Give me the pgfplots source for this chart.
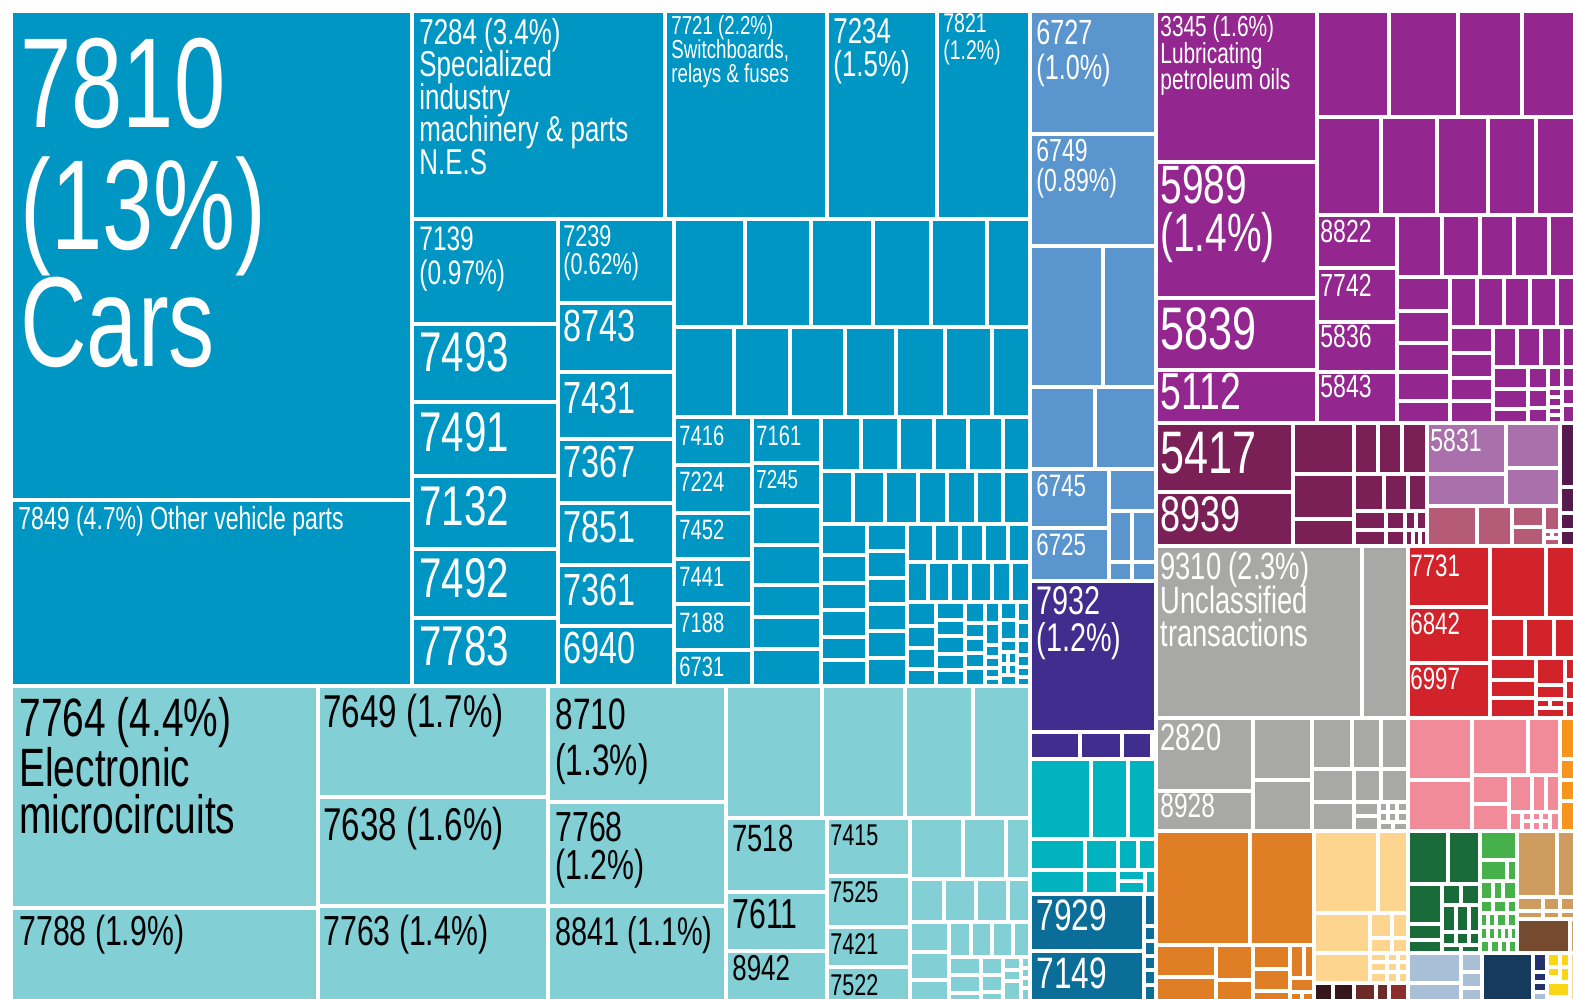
\documentclass[border=0pt]{standalone}
\usepackage{fontspec}
\setmainfont{Liberation Sans}[FakeStretch=0.72]
\usepackage{pgfplots}
\pgfplotsset{compat=1.18}
\definecolor{cB}{HTML}{0096C3}
\definecolor{cT}{HTML}{82CFD5}
\definecolor{cS}{HTML}{5A95CD}
\definecolor{cI}{HTML}{3F2E8E}
\definecolor{cC}{HTML}{00B3BF}
\definecolor{cD}{HTML}{0B6E99}
\definecolor{cP}{HTML}{93278F}
\definecolor{cM}{HTML}{7B1F57}
\definecolor{cL}{HTML}{A970AC}
\definecolor{cR}{HTML}{B55A77}
\definecolor{cK}{HTML}{561A4F}
\definecolor{cG}{HTML}{A8A9A7}
\definecolor{cRd}{HTML}{D2232A}
\definecolor{cPk}{HTML}{F28B99}
\definecolor{cO}{HTML}{F7941D}
\definecolor{cDO}{HTML}{E07E26}
\definecolor{cLO}{HTML}{FDD58F}
\definecolor{cBrA}{HTML}{35161A}
\definecolor{cBrB}{HTML}{6C2B26}
\definecolor{cBrC}{HTML}{8A2D2B}
\definecolor{cDG}{HTML}{1A6B3A}
\definecolor{cLG}{HTML}{46B04A}
\definecolor{cTn}{HTML}{CF9C5F}
\definecolor{cBw}{HTML}{754A2E}
\definecolor{cPb}{HTML}{A9BFD8}
\definecolor{cN}{HTML}{153A5E}
\definecolor{cNb}{HTML}{24316F}
\definecolor{cY}{HTML}{F9D616}
\newcommand{\rect}[5]{\addplot[fill=#5, draw=white, line width=2pt] coordinates {(#1,#2) (#3,#2) (#3,#4) (#1,#4)} -- cycle;}
\newcommand{\lab}[5]{\node[anchor=base west, inner sep=0pt, text=#4, font=\fontsize{#3}{#3}\selectfont] at (axis cs:#1,#2) {#5};}
\begin{document}
\begin{tikzpicture}
\begin{axis}[scale only axis, width=786.5pt, height=499.5pt, xmin=0, xmax=1573, ymin=0, ymax=999, y dir=reverse, hide axis, clip=true]
\addplot[draw=none, fill=white] coordinates {(0,0) (1573,0) (1573,999) (0,999)} -- cycle;
% ---------- Machinery (blue)
\rect{11}{11}{412}{500}{cB}
\rect{11}{500}{412}{686}{cB}
\rect{412}{11}{664.5}{219.5}{cB}
\rect{664.5}{11}{826.5}{219.5}{cB}
\rect{826.5}{11}{936.5}{219.5}{cB}
\rect{936.5}{11}{1030}{219.5}{cB}
\rect{412}{219.5}{557.8}{324.5}{cB}
\rect{412}{324.5}{557.8}{402}{cB}
\rect{412}{402}{557.8}{476.5}{cB}
\rect{412}{476.5}{557.8}{548.5}{cB}
\rect{412}{548.5}{557.8}{618}{cB}
\rect{412}{618}{557.8}{686}{cB}
\rect{557.8}{219.5}{674}{303.5}{cB}
\rect{557.8}{303.5}{674}{372.5}{cB}
\rect{557.8}{372.5}{674}{439}{cB}
\rect{557.8}{439}{674}{503.5}{cB}
\rect{557.8}{503.5}{674}{564.5}{cB}
\rect{557.8}{564.5}{674}{625.5}{cB}
\rect{557.8}{625.5}{674}{686}{cB}
\rect{674}{219.5}{744.5}{327}{cB}
\rect{744.5}{219.5}{811}{327}{cB}
\rect{811}{219.5}{872.5}{327}{cB}
\rect{872.5}{219.5}{931}{327}{cB}
\rect{931}{219.5}{987}{327}{cB}
\rect{987}{219.5}{1030}{327}{cB}
\rect{674}{327}{733.7}{417.5}{cB}
\rect{733.7}{327}{789.5}{417.5}{cB}
\rect{789.5}{327}{845.3}{417.5}{cB}
\rect{845.3}{327}{896}{417.5}{cB}
\rect{896}{327}{944.5}{417.5}{cB}
\rect{944.5}{327}{992}{417.5}{cB}
\rect{992}{327}{1030}{417.5}{cB}
\rect{674}{417.5}{752}{465.3}{cB}
\rect{674}{465.3}{752}{513.3}{cB}
\rect{674}{513.3}{752}{559}{cB}
\rect{674}{559}{752}{603.8}{cB}
\rect{674}{603.8}{752}{649.5}{cB}
\rect{674}{649.5}{752}{686}{cB}
\rect{752}{417.5}{821}{462.8}{cB}
\rect{752}{462.8}{821}{505.7}{cB}
\rect{752}{505.7}{821}{545.3}{cB}
\rect{752}{545.3}{821}{585.3}{cB}
\rect{752}{585.3}{821}{617.2}{cB}
\rect{752}{617.2}{821}{649}{cB}
\rect{752}{649}{821}{686}{cB}
\rect{821}{417.5}{861.3}{471}{cB}
\rect{861.3}{417.5}{899}{471}{cB}
\rect{899}{417.5}{933.5}{471}{cB}
\rect{933.5}{417.5}{968}{471}{cB}
\rect{968}{417.5}{1002.8}{471}{cB}
\rect{1002.8}{417.5}{1030}{471}{cB}
\rect{821}{471}{853.3}{524.5}{cB}
\rect{853.3}{471}{885.3}{524.5}{cB}
\rect{885.3}{471}{917.7}{524.5}{cB}
\rect{917.7}{471}{947}{524.5}{cB}
\rect{947}{471}{976}{524.5}{cB}
\rect{976}{471}{1002.8}{524.5}{cB}
\rect{1002.8}{471}{1030}{524.5}{cB}
\rect{821}{524.5}{867}{554.7}{cB}
\rect{821}{554.7}{867}{582.8}{cB}
\rect{821}{582.8}{867}{610}{cB}
\rect{821}{610}{867}{636.7}{cB}
\rect{821}{636.7}{867}{660}{cB}
\rect{821}{660}{867}{686}{cB}
\rect{867}{524.5}{907}{551.3}{cB}
\rect{867}{551.3}{907}{577.7}{cB}
\rect{867}{577.7}{907}{604.3}{cB}
\rect{867}{604.3}{907}{631}{cB}
\rect{867}{631}{907}{657.7}{cB}
\rect{867}{657.7}{907}{686}{cB}
\rect{907}{524.5}{933.5}{561.5}{cB}
\rect{933.5}{524.5}{960}{561.5}{cB}
\rect{960}{524.5}{984.3}{561.5}{cB}
\rect{984.3}{524.5}{1008.3}{561.5}{cB}
\rect{1008.3}{524.5}{1030}{561.5}{cB}
\rect{907}{561.5}{928}{601.7}{cB}
\rect{928}{561.5}{949.5}{601.7}{cB}
\rect{949.5}{561.5}{970.3}{601.7}{cB}
\rect{970.3}{561.5}{992}{601.7}{cB}
\rect{992}{561.5}{1011}{601.7}{cB}
\rect{1011}{561.5}{1030}{601.7}{cB}
\rect{907}{601.7}{935.5}{626}{cB}
\rect{907}{626}{935.5}{648}{cB}
\rect{907}{648}{935.5}{669}{cB}
\rect{907}{669}{935.5}{686}{cB}
\rect{935.5}{601.7}{965}{620}{cB}
\rect{935.5}{620}{965}{636}{cB}
\rect{935.5}{636}{965}{653.5}{cB}
\rect{935.5}{653.5}{965}{670}{cB}
\rect{935.5}{670}{965}{686}{cB}
\rect{965}{601.7}{984.5}{623}{cB}
\rect{965}{623}{984.5}{637.5}{cB}
\rect{965}{637.5}{984.5}{652.5}{cB}
\rect{965}{652.5}{984.5}{668}{cB}
\rect{965}{668}{984.5}{686}{cB}
\rect{984.5}{601.7}{999.5}{623}{cB}
\rect{984.5}{623}{999.5}{645}{cB}
\rect{984.5}{645}{999.5}{657}{cB}
\rect{984.5}{657}{999.5}{668}{cB}
\rect{984.5}{668}{999.5}{678}{cB}
\rect{984.5}{678}{999.5}{686}{cB}
\rect{999.5}{601.7}{1016.5}{620}{cB}
\rect{999.5}{620}{1016.5}{640}{cB}
\rect{999.5}{640}{1016.5}{652}{cB}
\rect{999.5}{652}{1008}{664}{cB}
\rect{1008}{652}{1016.5}{664}{cB}
\rect{999.5}{664}{1008}{675}{cB}
\rect{1008}{664}{1016.5}{675}{cB}
\rect{999.5}{675}{1016.5}{686}{cB}
\rect{1016.5}{601.7}{1030}{622}{cB}
\rect{1016.5}{622}{1030}{640}{cB}
\rect{1016.5}{640}{1030}{655}{cB}
\rect{1016.5}{655}{1030}{667}{cB}
\rect{1016.5}{667}{1030}{677}{cB}
\rect{1016.5}{677}{1030}{686}{cB}
% ---------- Electronics (light teal)
\rect{11}{686}{317.5}{908}{cT}
\rect{11}{908}{317.5}{1004}{cT}
\rect{317.5}{686}{548}{797}{cT}
\rect{317.5}{797}{548}{905.5}{cT}
\rect{317.5}{905.5}{548}{1004}{cT}
\rect{548}{686}{726}{802}{cT}
\rect{548}{802}{726}{906}{cT}
\rect{548}{906}{726}{1004}{cT}
\rect{726}{686}{821.7}{818}{cT}
\rect{821.7}{686}{904.7}{818}{cT}
\rect{904.7}{686}{973.3}{818}{cT}
\rect{973.3}{686}{1030}{818}{cT}
\rect{726}{818}{827}{892}{cT}
\rect{726}{892}{827}{950.7}{cT}
\rect{726}{950.7}{827}{1004}{cT}
\rect{827}{818}{909.5}{876}{cT}
\rect{827}{876}{909.5}{926.7}{cT}
\rect{827}{926.7}{909.5}{967}{cT}
\rect{827}{967}{909.5}{1004}{cT}
\rect{909.5}{818}{963.3}{879}{cT}
\rect{963.3}{818}{1005.7}{879}{cT}
\rect{1005.7}{818}{1030}{879}{cT}
\rect{909.5}{879}{944.3}{922}{cT}
\rect{944.3}{879}{976.2}{922}{cT}
\rect{976.2}{879}{1008}{922}{cT}
\rect{1008}{879}{1030}{922}{cT}
\rect{909.5}{922}{949.2}{951.7}{cT}
\rect{909.5}{951.7}{949.2}{979.7}{cT}
\rect{909.5}{979.7}{949.2}{1004}{cT}
\rect{949.2}{922}{970.8}{956.5}{cT}
\rect{970.8}{922}{992.3}{956.5}{cT}
\rect{992.3}{922}{1013.3}{956.5}{cT}
\rect{1013.3}{922}{1030}{956.5}{cT}
\rect{949.2}{956.5}{981.3}{975.3}{cT}
\rect{949.2}{975.3}{981.3}{993}{cT}
\rect{949.2}{993}{981.3}{1004}{cT}
\rect{981.3}{956.5}{1003}{974.7}{cT}
\rect{981.3}{974.7}{1003}{992}{cT}
\rect{981.3}{992}{1003}{1004}{cT}
\rect{1003}{956.5}{1021}{970}{cT}
\rect{1003}{970}{1021}{981}{cT}
\rect{1003}{981}{1021}{1004}{cT}
\rect{1021}{956.5}{1030}{968}{cT}
\rect{1021}{968}{1030}{978}{cT}
\rect{1021}{978}{1030}{988}{cT}
\rect{1021}{988}{1030}{1004}{cT}
% ---------- steel blue
\rect{1030}{11}{1155.5}{134}{cS}
\rect{1030}{134}{1155.5}{246}{cS}
\rect{1030}{246}{1103}{387}{cS}
\rect{1103}{246}{1155.5}{387}{cS}
\rect{1030}{387}{1094.5}{469}{cS}
\rect{1094.5}{387}{1155.5}{469}{cS}
\rect{1030}{469}{1109}{528}{cS}
\rect{1030}{528}{1109}{580.5}{cS}
\rect{1109}{469}{1155.5}{511.5}{cS}
\rect{1109}{511.5}{1132}{561.5}{cS}
\rect{1132}{511.5}{1155.5}{561.5}{cS}
\rect{1109}{561.5}{1132}{580.5}{cS}
\rect{1132}{561.5}{1155.5}{580.5}{cS}
% ---------- indigo
\rect{1030}{580.5}{1155.5}{731.5}{cI}
\rect{1030}{731.5}{1080}{758.5}{cI}
\rect{1080}{731.5}{1122}{758.5}{cI}
\rect{1122}{731.5}{1152}{758.5}{cI}
\rect{1152}{731.5}{1155.5}{758.5}{cI}
% ---------- teal
\rect{1030}{758.5}{1091}{838.5}{cC}
\rect{1091}{758.5}{1128}{838.5}{cC}
\rect{1128}{758.5}{1155.5}{838.5}{cC}
\rect{1030}{838.5}{1085}{869.5}{cC}
\rect{1085}{838.5}{1117.5}{869.5}{cC}
\rect{1117.5}{838.5}{1138.3}{869.5}{cC}
\rect{1138.3}{838.5}{1155.5}{869.5}{cC}
\rect{1030}{869.5}{1085}{894}{cC}
\rect{1085}{869.5}{1117.5}{894}{cC}
\rect{1117.5}{869.5}{1145}{881}{cC}
\rect{1117.5}{881}{1145}{894}{cC}
\rect{1145}{869.5}{1155.5}{894}{cC}
% ---------- dark teal blue
\rect{1030}{894}{1143.5}{951}{cD}
\rect{1030}{951}{1143.5}{1004}{cD}
\rect{1143.5}{894}{1155.5}{926}{cD}
\rect{1143.5}{926}{1155.5}{941}{cD}
\rect{1143.5}{941}{1155.5}{956}{cD}
\rect{1143.5}{956}{1155.5}{970}{cD}
\rect{1143.5}{970}{1155.5}{985}{cD}
\rect{1143.5}{985}{1155.5}{1004}{cD}
% ---------- purple
\rect{1155.5}{11}{1316.7}{161.7}{cP}
\rect{1155.5}{161.7}{1316.7}{297.7}{cP}
\rect{1155.5}{297.7}{1316.7}{370}{cP}
\rect{1155.5}{370}{1316.7}{423.5}{cP}
\rect{1316.7}{11}{1389}{116.7}{cP}
\rect{1389}{11}{1458.3}{116.7}{cP}
\rect{1458.3}{11}{1522}{116.7}{cP}
\rect{1522}{11}{1578}{116.7}{cP}
\rect{1316.7}{116.7}{1381}{215}{cP}
\rect{1381}{116.7}{1436.8}{215}{cP}
\rect{1436.8}{116.7}{1487.7}{215}{cP}
\rect{1487.7}{116.7}{1535.7}{215}{cP}
\rect{1535.7}{116.7}{1578}{215}{cP}
\rect{1316.7}{215}{1396.7}{268.3}{cP}
\rect{1316.7}{268.3}{1396.7}{321.7}{cP}
\rect{1316.7}{321.7}{1396.7}{371.7}{cP}
\rect{1316.7}{371.7}{1396.7}{423.5}{cP}
\rect{1396.7}{215}{1442}{276.7}{cP}
\rect{1442}{215}{1480}{276.7}{cP}
\rect{1480}{215}{1514.3}{276.7}{cP}
\rect{1514.3}{215}{1549}{276.7}{cP}
\rect{1549}{215}{1578}{276.7}{cP}
\rect{1396.7}{276.7}{1450}{311}{cP}
\rect{1396.7}{311}{1450}{343.3}{cP}
\rect{1396.7}{343.3}{1450}{371.7}{cP}
\rect{1396.7}{371.7}{1450}{401}{cP}
\rect{1396.7}{401}{1450}{423.5}{cP}
\rect{1450}{276.7}{1477.2}{326.7}{cP}
\rect{1477.2}{276.7}{1503.5}{326.7}{cP}
\rect{1503.5}{276.7}{1530.3}{326.7}{cP}
\rect{1530.3}{276.7}{1557}{326.7}{cP}
\rect{1557}{276.7}{1578}{326.7}{cP}
\rect{1450}{326.7}{1492.8}{353.3}{cP}
\rect{1450}{353.3}{1492.8}{377.7}{cP}
\rect{1450}{377.7}{1492.8}{401}{cP}
\rect{1450}{401}{1492.8}{423.5}{cP}
\rect{1492.8}{326.7}{1516.7}{366.7}{cP}
\rect{1516.7}{326.7}{1540.5}{366.7}{cP}
\rect{1540.5}{326.7}{1561.7}{366.7}{cP}
\rect{1561.7}{326.7}{1578}{366.7}{cP}
\rect{1492.8}{366.7}{1527.5}{388.7}{cP}
\rect{1492.8}{388.7}{1527.5}{409}{cP}
\rect{1492.8}{409}{1527.5}{423.5}{cP}
\rect{1527.5}{366.7}{1548}{389}{cP}
\rect{1527.5}{389}{1548}{408}{cP}
\rect{1527.5}{408}{1548}{423.5}{cP}
\rect{1548}{366.7}{1562}{388}{cP}
\rect{1548}{388}{1562}{397}{cP}
\rect{1548}{397}{1562}{407}{cP}
\rect{1548}{407}{1562}{415}{cP}
\rect{1548}{415}{1562}{423.5}{cP}
\rect{1562}{366.7}{1578}{388}{cP}
\rect{1562}{388}{1578}{405}{cP}
\rect{1562}{405}{1578}{423.5}{cP}
% ---------- maroon
\rect{1155.5}{423.5}{1292.5}{492}{cM}
\rect{1155.5}{492}{1292.5}{545.5}{cM}
\rect{1292.5}{423.5}{1354.3}{473.7}{cM}
\rect{1292.5}{473.7}{1354.3}{519}{cM}
\rect{1292.5}{519}{1354.3}{545.5}{cM}
\rect{1354.3}{423.5}{1378.3}{473.7}{cM}
\rect{1378.3}{423.5}{1402.3}{473.7}{cM}
\rect{1402.3}{423.5}{1426.7}{473.7}{cM}
\rect{1354.3}{473.7}{1383.7}{511}{cM}
\rect{1383.7}{473.7}{1407.7}{511}{cM}
\rect{1407.7}{473.7}{1426.7}{511}{cM}
\rect{1354.3}{511}{1386}{530}{cM}
\rect{1386}{511}{1404.7}{530}{cM}
\rect{1404.7}{511}{1415.5}{530}{cM}
\rect{1415.5}{511}{1426.7}{530}{cM}
\rect{1354.3}{530}{1386}{545.5}{cM}
\rect{1386}{530}{1404.7}{545.5}{cM}
\rect{1404.7}{530}{1413}{545.5}{cM}
\rect{1413}{530}{1420}{545.5}{cM}
\rect{1420}{530}{1426.7}{545.5}{cM}
\rect{1426.7}{423.5}{1506.3}{473.7}{cL}
\rect{1426.7}{473.7}{1506.3}{505.7}{cL}
\rect{1506.3}{423.5}{1559.7}{468}{cL}
\rect{1506.3}{468}{1559.7}{505.7}{cL}
\rect{1426.7}{505.7}{1477}{545.5}{cR}
\rect{1477}{505.7}{1512}{545.5}{cR}
\rect{1512}{505.7}{1543.7}{526.7}{cR}
\rect{1512}{526.7}{1543.7}{545.5}{cR}
\rect{1543.7}{505.7}{1559.7}{531}{cR}
\rect{1543.7}{531}{1551.7}{538}{cR}
\rect{1551.7}{531}{1559.7}{538}{cR}
\rect{1543.7}{538}{1559.7}{545.5}{cR}
\rect{1559.7}{423.5}{1578}{486.7}{cK}
\rect{1559.7}{486.7}{1578}{513.3}{cK}
\rect{1559.7}{513.3}{1578}{530}{cK}
\rect{1559.7}{530}{1578}{545.5}{cK}
% ---------- grey
\rect{1155.5}{545.5}{1362.3}{718.3}{cG}
\rect{1362.3}{545.5}{1407.8}{718.3}{cG}
\rect{1155.5}{718.3}{1253.3}{791}{cG}
\rect{1155.5}{791}{1253.3}{830.7}{cG}
\rect{1253.3}{718.3}{1311.7}{780}{cG}
\rect{1253.3}{780}{1311.7}{830.7}{cG}
\rect{1311.7}{718.3}{1352.3}{769}{cG}
\rect{1352.3}{718.3}{1381}{769}{cG}
\rect{1381}{718.3}{1407.8}{769}{cG}
\rect{1311.7}{769}{1353.7}{801.7}{cG}
\rect{1353.7}{769}{1381}{801.7}{cG}
\rect{1381}{769}{1407.8}{801.7}{cG}
\rect{1311.7}{801.7}{1354}{830.7}{cG}
\rect{1354}{801.7}{1378.7}{816}{cG}
\rect{1354}{816}{1378.7}{830.7}{cG}
\rect{1378.7}{801.7}{1388}{812}{cG}
\rect{1388}{801.7}{1397}{812}{cG}
\rect{1397}{801.7}{1407.8}{812}{cG}
\rect{1378.7}{812}{1388}{822}{cG}
\rect{1388}{812}{1397}{822}{cG}
\rect{1397}{812}{1407.8}{822}{cG}
\rect{1378.7}{822}{1393}{830.7}{cG}
\rect{1393}{822}{1407.8}{830.7}{cG}
% ---------- red
\rect{1407.8}{545.5}{1490.3}{607}{cRd}
\rect{1407.8}{607}{1490.3}{663}{cRd}
\rect{1407.8}{663}{1490.3}{718.3}{cRd}
\rect{1490.3}{545.5}{1546.2}{617.7}{cRd}
\rect{1546.2}{545.5}{1578}{617.7}{cRd}
\rect{1490.3}{617.7}{1524.7}{658}{cRd}
\rect{1524.7}{617.7}{1554.3}{658}{cRd}
\rect{1554.3}{617.7}{1578}{658}{cRd}
\rect{1490.3}{658}{1536}{680}{cRd}
\rect{1490.3}{680}{1536}{697.7}{cRd}
\rect{1490.3}{697.7}{1536}{718.3}{cRd}
\rect{1536}{658}{1565}{684.7}{cRd}
\rect{1536}{684.7}{1565}{698.5}{cRd}
\rect{1536}{698.5}{1550}{708}{cRd}
\rect{1550}{698.5}{1565}{708}{cRd}
\rect{1536}{708}{1565}{718.3}{cRd}
\rect{1565}{658}{1578}{680}{cRd}
\rect{1565}{680}{1578}{700}{cRd}
\rect{1565}{700}{1578}{718.3}{cRd}
% ---------- pink
\rect{1407.8}{718.3}{1471.7}{780}{cPk}
\rect{1407.8}{780}{1471.7}{830.7}{cPk}
\rect{1471.7}{718.3}{1527.7}{775}{cPk}
\rect{1527.7}{718.3}{1560}{775}{cPk}
\rect{1471.7}{775}{1509}{804.3}{cPk}
\rect{1471.7}{804.3}{1509}{830.7}{cPk}
\rect{1509}{775}{1532.3}{811.7}{cPk}
\rect{1532.3}{775}{1546.3}{811.7}{cPk}
\rect{1546.3}{775}{1560}{811.7}{cPk}
\rect{1509}{811.7}{1522}{830.7}{cPk}
\rect{1522}{811.7}{1532}{821}{cPk}
\rect{1522}{821}{1532}{830.7}{cPk}
\rect{1532}{811.7}{1541}{821}{cPk}
\rect{1532}{821}{1541}{830.7}{cPk}
\rect{1541}{811.7}{1550}{821}{cPk}
\rect{1541}{821}{1550}{830.7}{cPk}
\rect{1550}{811.7}{1560}{830.7}{cPk}
\rect{1560}{718.3}{1578}{759}{cO}
\rect{1560}{759}{1578}{780}{cO}
\rect{1560}{780}{1578}{801}{cO}
\rect{1560}{801}{1578}{830.7}{cO}
% ---------- dark orange
\rect{1155.5}{830.7}{1250}{945}{cDO}
\rect{1250}{830.7}{1314}{945}{cDO}
\rect{1155.5}{945}{1215.7}{977.3}{cDO}
\rect{1155.5}{977.3}{1215.7}{1004}{cDO}
\rect{1215.7}{945}{1253.3}{980}{cDO}
\rect{1215.7}{980}{1253.3}{1004}{cDO}
\rect{1253.3}{945}{1290}{969}{cDO}
\rect{1253.3}{969}{1290}{990.7}{cDO}
\rect{1253.3}{990.7}{1290}{1004}{cDO}
\rect{1290}{945}{1304}{978}{cDO}
\rect{1304}{945}{1314}{978}{cDO}
\rect{1290}{978}{1314}{992}{cDO}
\rect{1290}{992}{1302}{1004}{cDO}
\rect{1302}{992}{1314}{1004}{cDO}
% ---------- light orange
\rect{1314}{830.7}{1378.3}{913}{cLO}
\rect{1378.3}{830.7}{1407.8}{913}{cLO}
\rect{1314}{913}{1370}{953.3}{cLO}
\rect{1370}{913}{1391.7}{937.5}{cLO}
\rect{1391.7}{913}{1407.8}{937.5}{cLO}
\rect{1370}{937.5}{1391.7}{953.3}{cLO}
\rect{1391.7}{937.5}{1407.8}{953.3}{cLO}
\rect{1314}{953.3}{1370}{983}{cLO}
\rect{1370}{953.3}{1387}{962}{cLO}
\rect{1387}{953.3}{1398}{962}{cLO}
\rect{1398}{953.3}{1407.8}{962}{cLO}
\rect{1370}{962}{1387}{972}{cLO}
\rect{1387}{962}{1398}{972}{cLO}
\rect{1398}{962}{1407.8}{972}{cLO}
\rect{1370}{972}{1387}{983}{cLO}
\rect{1387}{972}{1398}{983}{cLO}
\rect{1398}{972}{1407.8}{983}{cLO}
\rect{1314}{983}{1333.3}{1004}{cBrA}
\rect{1333.3}{983}{1354}{1004}{cBrA}
\rect{1354}{983}{1375.7}{1004}{cBrB}
\rect{1375.7}{983}{1389}{1004}{cBrB}
\rect{1389}{983}{1407.8}{1004}{cBrC}
% ---------- dark green
\rect{1407.8}{830.7}{1447.7}{883.5}{cDG}
\rect{1447.7}{830.7}{1480}{883.5}{cDG}
\rect{1407.8}{883.5}{1442.3}{923.5}{cDG}
\rect{1407.8}{923.5}{1442.3}{940}{cDG}
\rect{1407.8}{940}{1442.3}{953.3}{cDG}
\rect{1442.3}{883.5}{1461}{905.3}{cDG}
\rect{1461}{883.5}{1480}{905.3}{cDG}
\rect{1442.3}{905.3}{1455.7}{932}{cDG}
\rect{1455.7}{905.3}{1469}{932}{cDG}
\rect{1469}{905.3}{1480}{932}{cDG}
\rect{1442.3}{932}{1455.7}{944.7}{cDG}
\rect{1455.7}{932}{1469}{944.7}{cDG}
\rect{1469}{932}{1480}{944.7}{cDG}
\rect{1442.3}{944.7}{1461}{953.3}{cDG}
\rect{1461}{944.7}{1480}{953.3}{cDG}
% ---------- light green
\rect{1480}{830.7}{1516.7}{860}{cLG}
\rect{1480}{860}{1506.7}{881}{cLG}
\rect{1506.7}{860}{1516.7}{881}{cLG}
\rect{1480}{881}{1493.3}{900}{cLG}
\rect{1493.3}{881}{1503.3}{900}{cLG}
\rect{1503.3}{881}{1516.7}{900}{cLG}
\rect{1480}{900}{1493.3}{913.3}{cLG}
\rect{1493.3}{900}{1506.7}{913.3}{cLG}
\rect{1506.7}{900}{1516.7}{913.3}{cLG}
\rect{1480}{913.3}{1488}{926.7}{cLG}
\rect{1488}{913.3}{1496}{926.7}{cLG}
\rect{1496}{913.3}{1506.7}{926.7}{cLG}
\rect{1506.7}{913.3}{1516.7}{926.7}{cLG}
\rect{1480}{926.7}{1488}{940}{cLG}
\rect{1488}{926.7}{1496}{940}{cLG}
\rect{1496}{926.7}{1503}{940}{cLG}
\rect{1503}{926.7}{1510}{940}{cLG}
\rect{1510}{926.7}{1516.7}{940}{cLG}
\rect{1480}{940}{1490}{953.3}{cLG}
\rect{1490}{940}{1500}{953.3}{cLG}
\rect{1500}{940}{1508}{953.3}{cLG}
\rect{1508}{940}{1516.7}{953.3}{cLG}
% ---------- tan / brown
\rect{1516.7}{830.7}{1556.7}{896.7}{cTn}
\rect{1556.7}{830.7}{1578}{896.7}{cTn}
\rect{1516.7}{896.7}{1543.3}{910.7}{cTn}
\rect{1543.3}{896.7}{1560}{910.7}{cTn}
\rect{1560}{896.7}{1578}{910.7}{cTn}
\rect{1516.7}{910.7}{1543.3}{919}{cTn}
\rect{1543.3}{910.7}{1560}{919}{cTn}
\rect{1560}{910.7}{1578}{919}{cTn}
\rect{1516.7}{919}{1570}{953.3}{cBw}
\rect{1570}{919}{1578}{953.3}{cTn}
% ---------- pale blue, navy, yellow
\rect{1407.8}{953.3}{1461}{983}{cPb}
\rect{1407.8}{983}{1461}{1004}{cPb}
\rect{1461}{953.3}{1482}{971.7}{cPb}
\rect{1461}{971.7}{1482}{988.3}{cPb}
\rect{1461}{988.3}{1482}{1004}{cPb}
\rect{1482}{953.3}{1533.3}{1004}{cN}
\rect{1533.3}{953.3}{1546.7}{971.7}{cNb}
\rect{1533.3}{971.7}{1546.7}{982}{cNb}
\rect{1533.3}{982}{1546.7}{992}{cNb}
\rect{1533.3}{992}{1546.7}{1004}{cPb}
\rect{1546.7}{953.3}{1560}{966.7}{cY}
\rect{1560}{953.3}{1570}{966.7}{cY}
\rect{1546.7}{966.7}{1560}{976.7}{cY}
\rect{1560}{966.7}{1570}{982}{cY}
\rect{1546.7}{982}{1570}{996.7}{cY}
\rect{1546.7}{996.7}{1570}{1004}{cY}
\rect{1570}{953.3}{1578}{1004}{cLO}
% ================= labels
\lab{20}{128}{64}{white}{7810}
\lab{20}{250}{64}{white}{(13\%)}
\lab{20}{367}{64}{white}{Cars}
\lab{18}{530}{16}{white}{7849 (4.7\%) Other vehicle parts}
\lab{419}{45}{18}{white}{7284 (3.4\%)}
\lab{419}{77}{18}{white}{Specialized}
\lab{419}{110}{18}{white}{industry}
\lab{419}{142}{18}{white}{machinery \& parts}
\lab{419}{175}{18}{white}{N.E.S}
\lab{671}{35}{13}{white}{7721 (2.2\%)}
\lab{671}{59}{13}{white}{Switchboards,}
\lab{671}{83}{13}{white}{relays \& fuses}
\lab{833}{44}{18}{white}{7234}
\lab{833}{77}{18}{white}{(1.5\%)}
\lab{943}{33}{13.5}{white}{7821}
\lab{943}{60}{13.5}{white}{(1.2\%)}
\lab{419}{251}{17}{white}{7139}
\lab{419}{285}{17}{white}{(0.97\%)}
\lab{563}{247}{15}{white}{7239}
\lab{563}{275}{15}{white}{(0.62\%)}
\lab{419}{372}{28}{white}{7493}
\lab{419}{452}{28}{white}{7491}
\lab{419}{525}{28}{white}{7132}
\lab{419}{597}{28}{white}{7492}
\lab{419}{665}{28}{white}{7783}
\lab{563}{342}{22.5}{white}{8743}
\lab{563}{414}{22.5}{white}{7431}
\lab{563}{478}{22.5}{white}{7367}
\lab{563}{543}{22.5}{white}{7851}
\lab{563}{605}{22.5}{white}{7361}
\lab{563}{663}{22.5}{white}{6940}
\lab{679}{446}{14}{white}{7416}
\lab{679}{492}{14}{white}{7224}
\lab{679}{539}{14}{white}{7452}
\lab{679}{586}{14}{white}{7441}
\lab{679}{632}{14}{white}{7188}
\lab{679}{676}{14}{white}{6731}
\lab{756}{446}{14}{white}{7161}
\lab{756}{488}{13}{white}{7245}
\lab{19}{736}{27}{black}{7764 (4.4\%)}
\lab{19}{786}{27}{black}{Electronic}
\lab{19}{833}{27}{black}{microcircuits}
\lab{19}{945}{21}{black}{7788 (1.9\%)}
\lab{323}{727}{23}{black}{7649 (1.7\%)}
\lab{323}{840}{23}{black}{7638 (1.6\%)}
\lab{323}{945}{21}{black}{7763 (1.4\%)}
\lab{555}{729}{22}{black}{8710}
\lab{555}{775}{22}{black}{(1.3\%)}
\lab{555}{841}{21}{black}{7768}
\lab{555}{879}{21}{black}{(1.2\%)}
\lab{555}{945}{20}{black}{8841 (1.1\%)}
\lab{732}{851}{19}{black}{7518}
\lab{732}{928}{21}{black}{7611}
\lab{732}{980}{18}{black}{8942}
\lab{830}{845}{15}{black}{7415}
\lab{830}{902}{15}{black}{7525}
\lab{830}{954}{15}{black}{7421}
\lab{830}{995}{15}{black}{7522}
\lab{1036}{45}{17.5}{white}{6727}
\lab{1036}{80}{17.5}{white}{(1.0\%)}
\lab{1036}{162}{16}{white}{6749}
\lab{1036}{192}{16}{white}{(0.89\%)}
\lab{1036}{497}{15.5}{white}{6745}
\lab{1036}{555}{15.5}{white}{6725}
\lab{1036}{614}{20}{white}{7932}
\lab{1036}{651}{20}{white}{(1.2\%)}
\lab{1036}{930}{22}{white}{7929}
\lab{1036}{988}{22}{white}{7149}
\lab{1160}{37}{14.5}{white}{3345 (1.6\%)}
\lab{1160}{64}{14.5}{white}{Lubricating}
\lab{1160}{90}{14.5}{white}{petroleum oils}
\lab{1160}{204}{27}{white}{5989}
\lab{1160}{252}{27}{white}{(1.4\%)}
\lab{1160}{350}{30}{white}{5839}
\lab{1160}{410}{26}{white}{5112}
\lab{1320}{243}{16}{white}{8822}
\lab{1320}{297}{16}{white}{7742}
\lab{1320}{348}{16}{white}{5836}
\lab{1320}{398}{16}{white}{5843}
\lab{1160}{474}{30}{white}{5417}
\lab{1160}{531}{25}{white}{8939}
\lab{1430}{452}{16}{white}{5831}
\lab{1160}{579}{19}{white}{9310 (2.3\%)}
\lab{1160}{613}{19}{white}{Unclassified}
\lab{1160}{646}{19}{white}{transactions}
\lab{1160}{750}{19}{white}{2820}
\lab{1160}{817}{17}{white}{8928}
\lab{1410}{576}{15.5}{white}{7731}
\lab{1410}{634}{15.5}{white}{6842}
\lab{1410}{689}{15.5}{white}{6997}
\end{axis}
\end{tikzpicture}
\end{document}
